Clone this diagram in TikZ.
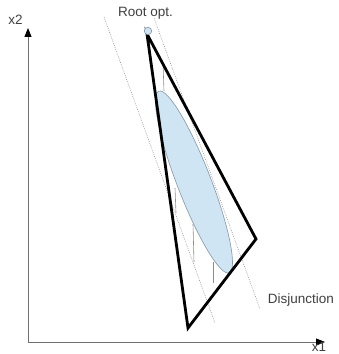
\documentclass[tikz,border=0pt]{standalone}
\usepackage{fontspec}
\setmainfont{Liberation Sans}
\usetikzlibrary{arrows.meta}
\definecolor{fillblue}{HTML}{CFE5F3}
\definecolor{edgeblue}{HTML}{8596A6}
\definecolor{txt}{HTML}{404040}
\definecolor{axisgray}{HTML}{707070}
\tikzset{
  lbl/.style={font=\fontsize{13.5}{16}\selectfont, text=txt, inner sep=0pt},
  axisline/.style={draw=axisgray, line width=0.9pt, -{Triangle[length=9pt,width=7pt,color=black,fill=black]}},
  thick edge/.style={draw=black, line width=2.8pt, line join=miter},
  dotline/.style={draw=gray, line width=0.5pt, dash pattern=on 0.8pt off 1.2pt},
  branch/.style={draw=gray!90, line width=0.6pt}
}
\begin{document}
\begin{tikzpicture}[x=1pt,y=1pt]
\useasboundingbox (0,0) rectangle (338,354);
% axes
\coordinate (O) at (28,12);
\coordinate (Ytop) at (28,326);
\coordinate (Xend) at (325,12);
\draw[axisline] (O) -- (Ytop);
\draw[axisline] (O) -- (Xend);
\node[lbl] (x2) at (15.5,334) {x2};
\node[lbl] (x1) at (319,7.5) {x1};
% dotted lines
\coordinate (dl1) at (104,337);
\coordinate (dl2) at (215,31);
\coordinate (dr1) at (154,336);
\coordinate (dr2) at (260,45);
\draw[dotline] (dl1) -- (dl2);
\draw[dotline] (dr1) -- (dr2);
% ellipse
\coordinate (E) at (194,172);
\draw[fill=fillblue, draw=edgeblue, line width=0.6pt] (E) ellipse [x radius=97.4pt, y radius=16.9pt, rotate=-68.85];
% branch lines
\coordinate (b1a) at (163,291); \coordinate (b1b) at (164,263);
\coordinate (b2a) at (175,166); \coordinate (b2b) at (176,141);
\coordinate (b3a) at (193,130); \coordinate (b3b) at (194,92);
\coordinate (b4a) at (213,92);  \coordinate (b4b) at (213,71);
\draw[branch] (b1a) -- (b1b);
\draw[branch] (b2a) -- (b2b);
\draw[branch] (b3a) -- (b3b);
\draw[branch] (b4a) -- (b4b);
% triangle
\coordinate (A) at (147,320);
\coordinate (B) at (256,115);
\coordinate (C) at (188,26);
\draw[thick edge] (A) -- (B) -- (C) -- cycle;
% root
\node[circle, fill=fillblue, draw=edgeblue, line width=0.6pt, minimum size=7.5pt, inner sep=0pt] (root) at (148,323) {};
\node[lbl] (rootlbl) at (145.5,341) {Root opt.};
\node[lbl] (disj) at (301,53.5) {Disjunction};
\end{tikzpicture}
\end{document}
